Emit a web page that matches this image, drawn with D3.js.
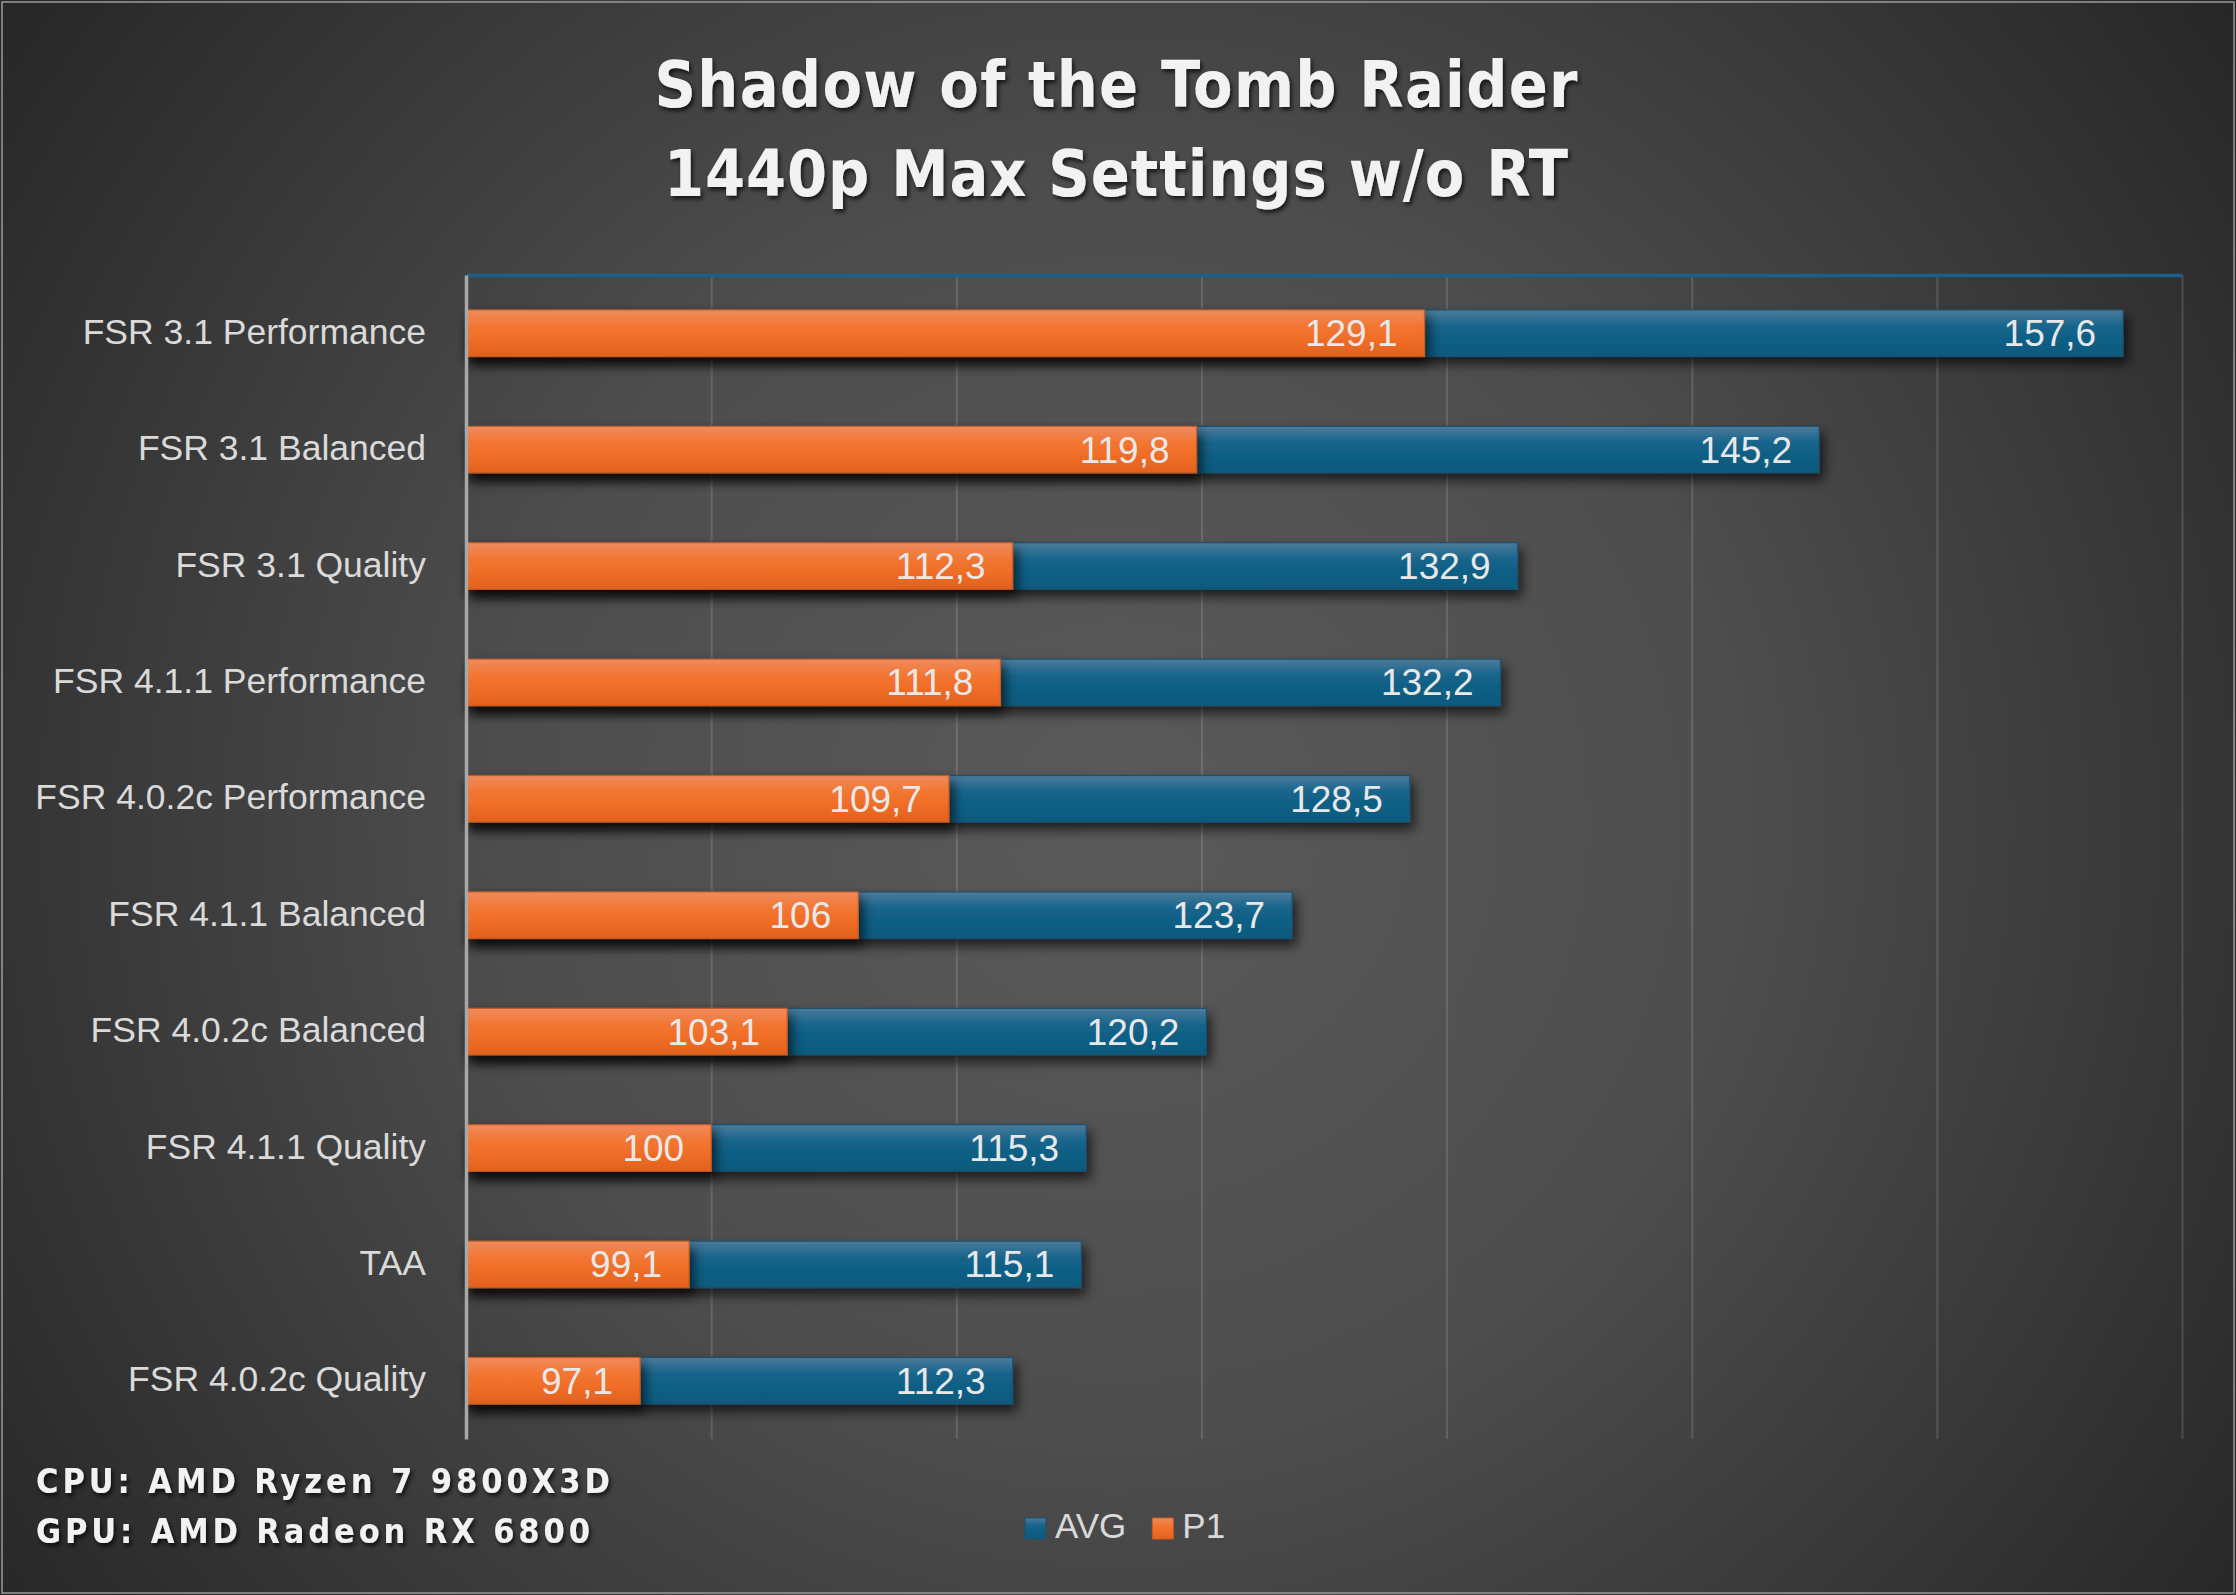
<!DOCTYPE html>
<html><head><meta charset="utf-8">
<script src="https://cdn.jsdelivr.net/npm/d3@7"></script>
<style>html,body{margin:0;padding:0;background:#ffffff;} svg{display:block}</style>
</head><body>
<script>
// ---- data ----
const categories = [
  "FSR 3.1 Performance","FSR 3.1 Balanced","FSR 3.1 Quality","FSR 4.1.1 Performance",
  "FSR 4.0.2c Performance","FSR 4.1.1 Balanced","FSR 4.0.2c Balanced","FSR 4.1.1 Quality",
  "TAA","FSR 4.0.2c Quality"
];
const avgValues = [157.6,145.2,132.9,132.2,128.5,123.7,120.2,115.3,115.1,112.3];
const p1Values  = [129.1,119.8,112.3,111.8,109.7,106,103.1,100,99.1,97.1];
const xTicks = [90,100,110,120,130,140,150,160];
const seriesNames = ["AVG","P1"];
const titleLines = ["Shadow of the Tomb Raider","1440p Max Settings w/o RT"];
const footerLines = ["CPU: AMD Ryzen 7 9800X3D","GPU: AMD Radeon RX 6800"];

// ---- layout ----
const W = 2236, H = 1595;
const plot = {left: 466, right: 2182, top: 275, bottom: 1439};
const fmt = v => String(v).replace(".", ",");

const svg = d3.select("body").append("svg").attr("width", W).attr("height", H);
const defs = svg.append("defs");

const bg = defs.append("radialGradient").attr("id","bg")
  .attr("gradientUnits","userSpaceOnUse").attr("cx",1118).attr("cy",820).attr("r",1390);
bg.append("stop").attr("offset","0").attr("stop-color","#5a5a5a");
bg.append("stop").attr("offset","0.45").attr("stop-color","#4d4d4d");
bg.append("stop").attr("offset","1").attr("stop-color","#262626");

function vgrad(id, stops){
  const g = defs.append("linearGradient").attr("id",id).attr("x1",0).attr("y1",0).attr("x2",0).attr("y2",1);
  stops.forEach(s => g.append("stop").attr("offset",s[0]).attr("stop-color",s[1]));
}
vgrad("gAVG", [[0,"#4c7b9b"],[0.35,"#17658c"],[0.6,"#0f5f85"],[1,"#0c5a7e"]]);
vgrad("gP1",  [[0,"#ef8b5e"],[0.35,"#f27632"],[0.6,"#f06e28"],[1,"#e2611d"]]);
const fillOf = {AVG: "url(#gAVG)", P1: "url(#gP1)"};
const strokeOf = {AVG: "#1d4f6e", P1: "#c95a1f"};

const sh = defs.append("filter").attr("id","barShadow")
  .attr("x","-5%").attr("y","-40%").attr("width","115%").attr("height","200%");
sh.append("feDropShadow").attr("dx",4).attr("dy",7).attr("stdDeviation",6)
  .attr("flood-color","#000").attr("flood-opacity",0.65);
const tsh = defs.append("filter").attr("id","textShadow")
  .attr("x","-5%").attr("y","-30%").attr("width","110%").attr("height","170%");
tsh.append("feDropShadow").attr("dx",2).attr("dy",3).attr("stdDeviation",2.2)
  .attr("flood-color","#000").attr("flood-opacity",0.7);

// background
svg.append("rect").attr("x",0).attr("y",0).attr("width",W).attr("height",H).attr("fill","url(#bg)");
svg.append("rect").attr("x",2).attr("y",2).attr("width",W-4).attr("height",H-4)
  .attr("fill","none").attr("stroke","#9a9a9a").attr("stroke-width",1.5);

// scales
const x = d3.scaleLinear().domain([xTicks[0], xTicks[xTicks.length-1]]).range([plot.left, plot.right]);
const y = d3.scaleBand().domain(categories).range([plot.top, plot.bottom]).paddingInner(0.6).paddingOuter(0.3);

// gridlines
const grid = svg.append("g").attr("transform",`translate(0,${plot.bottom})`)
  .call(d3.axisBottom(x).tickValues(xTicks.slice(1)).tickSize(-(plot.bottom-plot.top)).tickFormat(""));
grid.select(".domain").remove();
grid.selectAll(".tick line").attr("stroke","rgba(255,255,255,0.13)").attr("stroke-width",2.2);

// top axis line (blue)
const topAx = svg.append("g").attr("transform",`translate(0,${plot.top})`)
  .call(d3.axisTop(x).tickValues([]).tickSize(0));
topAx.select(".domain").attr("stroke","#1a6189").attr("stroke-width",3.5);

// bars
const rows = categories.map((c,i) => ({cat:c, AVG:avgValues[i], P1:p1Values[i]}));
seriesNames.forEach(s => {
  const g = svg.append("g").attr("class","bars-"+s);
  g.selectAll("rect").data(rows).join("rect")
    .attr("x", x(xTicks[0]))
    .attr("y", d => y(d.cat))
    .attr("width", d => x(d[s]) - x(xTicks[0]))
    .attr("height", y.bandwidth())
    .attr("fill", fillOf[s])
    .attr("stroke", strokeOf[s]).attr("stroke-width", 1.2)
    .attr("filter","url(#barShadow)");
  g.selectAll("text").data(rows).join("text")
    .attr("x", d => x(d[s]) - 27)
    .attr("y", d => y(d.cat) + y.bandwidth()/2)
    .attr("dy","0.35em")
    .attr("text-anchor","end")
    .attr("font-family","'Liberation Sans', Arial, sans-serif")
    .attr("font-size",37)
    .attr("fill","#e8e8e8")
    .text(d => fmt(d[s]));
});

// left axis
const yAx = svg.append("g").attr("transform",`translate(${plot.left},0)`)
  .call(d3.axisLeft(y).tickSize(0).tickPadding(40));
yAx.select(".domain").attr("stroke","#a8a8a8").attr("stroke-width",3.5);
yAx.selectAll("text")
  .attr("font-family","'Liberation Sans', Arial, sans-serif")
  .attr("font-size",35.5).attr("fill","#dadada").attr("dy","0.3em");

// title
const titleFont = "'DejaVu Sans Condensed','DejaVu Sans',sans-serif";
const titleWidths = [923, 904];
const titleBase = [107, 196];
svg.append("g").selectAll("text").data(titleLines).join("text")
  .attr("x", 1116).attr("y", (d,i) => titleBase[i])
  .attr("text-anchor","middle")
  .attr("font-family", titleFont).attr("font-weight","bold").attr("font-size",64)
  .attr("textLength", (d,i) => titleWidths[i]).attr("lengthAdjust","spacing")
  .attr("fill","#f2f2f2").attr("filter","url(#textShadow)")
  .text(d => d);

// footer
const footWidths = [574, 554];
const footBase = [1493, 1543];
svg.append("g").selectAll("text").data(footerLines).join("text")
  .attr("x", 36).attr("y", (d,i) => footBase[i])
  .attr("font-family", titleFont).attr("font-weight","bold").attr("font-size",34)
  .attr("textLength", (d,i) => footWidths[i]).attr("lengthAdjust","spacing")
  .attr("fill","#f2f2f2").attr("filter","url(#textShadow)")
  .text(d => d);

// legend
const leg = svg.append("g").attr("transform","translate(1025,1518)");
let lx = 0;
seriesNames.forEach(s => {
  const it = leg.append("g").attr("transform",`translate(${lx},0)`);
  it.append("rect").attr("width",21).attr("height",21).attr("fill",fillOf[s])
    .attr("stroke",strokeOf[s]).attr("stroke-width",1);
  const t = it.append("text").attr("x",30).attr("y",20)
    .attr("font-family","'Liberation Sans', Arial, sans-serif").attr("font-size",35)
    .attr("fill","#d9d9d9").text(s);
  lx += 30 + t.node().getComputedTextLength() + 26;
});
</script>
</body></html>
